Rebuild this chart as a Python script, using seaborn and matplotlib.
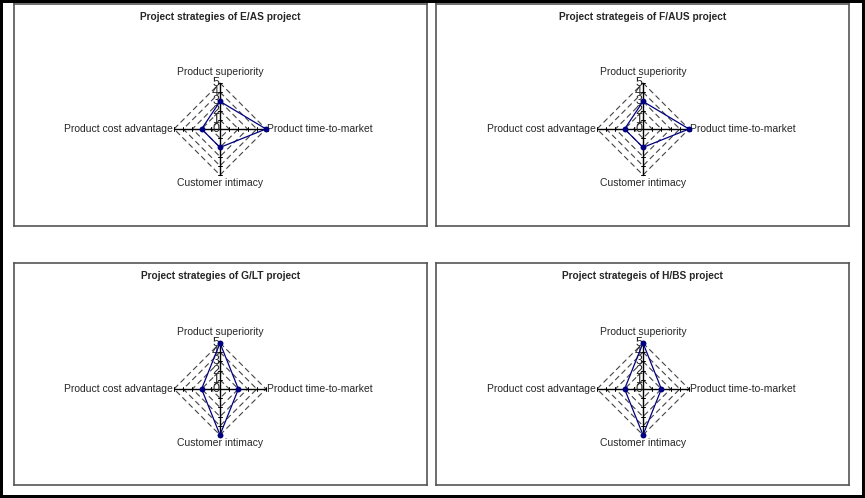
import numpy as np
import pandas as pd
import seaborn as sns
from matplotlib import pyplot as plt

categories = ["Product superiority", "Product time-to-market",
              "Customer intimacy", "Product cost advantage"]
titles = ["Project strategies of E/AS project",
          "Project strategeis of F/AUS project",
          "Project strategies of G/LT project",
          "Project strategeis of H/BS project"]
eas_scores = [3, 5, 2, 2]
faus_scores = [3, 5, 2, 2]
glt_scores = [5, 2, 5, 2]
hbs_scores = [5, 2, 5, 2]
levels = [0, 1, 2, 3, 4, 5]

sns.set_style("white")
plt.rcParams['font.family'] = ['Liberation Sans', 'DejaVu Sans']

W, H = 865, 498
UNIT = 9.2  # pixels per radar unit
NAVY = '#000080'

# panel boxes (left, top, right, bottom) and radar centre, in pixels
panels = [
    ((14, 4, 427, 226), (220, 129)),
    ((436, 4, 849, 226), (643, 129)),
    ((14, 263, 427, 485), (220, 389)),
    ((436, 263, 849, 485), (643, 389)),
]
all_scores = [eas_scores, faus_scores, glt_scores, hbs_scores]

angles = np.deg2rad([0, 90, 180, 270])
ax_x = np.sin(angles)
ax_y = np.cos(angles)
rmax = max(levels)


def to_xy(vals):
    vals = list(vals) + [vals[0]]
    ang = list(angles) + [angles[0]]
    return pd.DataFrame({'x': np.array(vals) * np.sin(ang),
                         'y': np.array(vals) * np.cos(ang)})


def draw_radar(ax, title, scores, box, centre):
    l, t, r, b = box
    cx, cy = centre
    ax.set_xlim(-(cx - l) / UNIT, (r - cx) / UNIT)
    ax.set_ylim(-(b - cy) / UNIT, (cy - t) / UNIT)
    ax.set_xticks([])
    ax.set_yticks([])
    for s in ax.spines.values():
        s.set_color('#555555')
        s.set_linewidth(1.2)

    # dashed grid diamonds
    for lv in levels[1:]:
        g = to_xy([lv] * 4)
        ax.plot(g['x'], g['y'], color='#444444', lw=0.8, ls=(0, (5, 3)), zorder=1)

    # spokes with small tick marks
    for dx, dy in zip(ax_x, ax_y):
        ax.plot([0, dx * rmax], [0, dy * rmax], color='black', lw=1.0, zorder=2)
        for lv in levels[1:]:
            px, py = dx * lv, dy * lv
            ax.plot([px - dy * 0.25, px + dy * 0.25], [py - dx * 0.25, py + dx * 0.25],
                    color='black', lw=0.7, zorder=2)

    # value labels on the top spoke
    for lv in levels:
        ax.text(-0.1, lv, str(lv), ha='right', va='center', fontsize=9, zorder=3)

    df = to_xy(scores)
    sns.lineplot(data=df, x='x', y='y', sort=False, estimator=None,
                 color=NAVY, lw=0.9, ax=ax, zorder=4)
    sns.scatterplot(data=df.iloc[:-1], x='x', y='y', color=NAVY, s=18,
                    edgecolor=NAVY, linewidth=0, ax=ax, zorder=5)
    ax.set_xlabel('')
    ax.set_ylabel('')

    fs = 7.5
    ax.text(0, 6.2, categories[0], ha='center', va='center', fontsize=fs)
    ax.text(5.15, 0, categories[1], ha='left', va='center', fontsize=fs)
    ax.text(0, -5.9, categories[2], ha='center', va='center', fontsize=fs)
    ax.text(-5.15, 0, categories[3], ha='right', va='center', fontsize=fs)
    ax.text(0.5, 1 - 13 / (b - t), title, transform=ax.transAxes, ha='center',
            va='center', fontsize=7.3, fontweight='bold')


fig = plt.figure(figsize=(W / 100, H / 100), dpi=100)
fig.patch.set_facecolor('white')
fig.patch.set_edgecolor('black')
fig.patch.set_linewidth(3)

for title, scores, (box, centre) in zip(titles, all_scores, panels):
    l, t, r, b = box
    ax = fig.add_axes([l / W, 1 - b / H, (r - l) / W, (b - t) / H])
    draw_radar(ax, title, scores, box, centre)

plt.savefig('out.png', dpi=100, facecolor=fig.get_facecolor(),
            edgecolor=fig.get_edgecolor())
